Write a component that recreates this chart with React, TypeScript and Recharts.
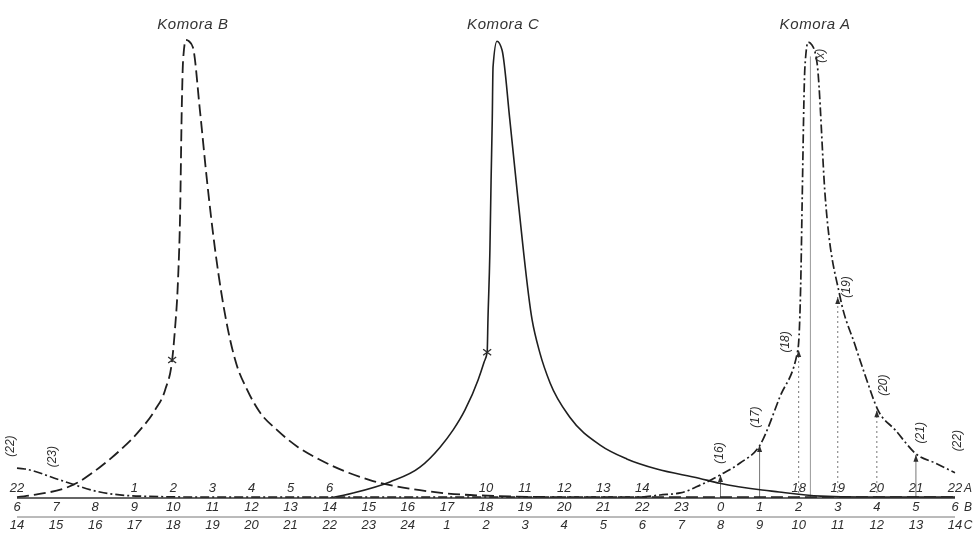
import { LineChart, Line, XAxis, YAxis, ReferenceLine, ReferenceDot } from 'recharts';

// hour positions 0..24 along the shared time base
const hourTicks = [0, 1, 2, 3, 4, 5, 6, 7, 8, 9, 10, 11, 12, 13, 14, 15, 16, 17, 18, 19, 20, 21, 22, 23, 24];
const rowA = ['22', '', '', '1', '2', '3', '4', '5', '6', '', '', '', '10', '11', '12', '13', '14', '', '', '', '18', '19', '20', '21', '22'];
const rowB = ['6', '7', '8', '9', '10', '11', '12', '13', '14', '15', '16', '17', '18', '19', '20', '21', '22', '23', '0', '1', '2', '3', '4', '5', '6'];
const rowC = ['14', '15', '16', '17', '18', '19', '20', '21', '22', '23', '24', '1', '2', '3', '4', '5', '6', '7', '8', '9', '10', '11', '12', '13', '14'];

// Komora B (dashed)
const komoraBX = [0, 0.41, 1.54, 2.12, 2.64, 3.15, 3.53, 3.79, 3.97, 4.04, 4.12, 4.17, 4.22, 4.25, 4.32, 4.4, 4.5, 4.68, 4.86, 5.07, 5.4, 5.6, 5.89, 6.2, 6.65, 7.2, 7.75, 9.03, 10.31, 11.59, 13.9, 24];
const komoraBV = [0.2, 0.65, 3.3, 6.7, 10.4, 14.8, 19.1, 23.5, 30, 36.5, 47.4, 60.4, 86.5, 95.2, 99.6, 99.3, 98, 84.3, 69.1, 53.9, 36.5, 29.5, 23.5, 18.8, 14.8, 11, 8.3, 3.9, 1.7, 0.65, 0.2, 0.2];

// Komora C (solid)
const komoraCX = [8.01, 8.6, 9.54, 10.31, 10.82, 11.16, 11.46, 11.8, 11.95, 12.03, 12.05, 12.1, 12.13, 12.16, 12.18, 12.28, 12.41, 12.61, 12.82, 13.18, 13.38, 13.64, 14.15, 14.92, 15.6, 16.37, 17.45, 17.98, 19.5, 20.56, 21.6, 24];
const komoraCV = [0, 1.1, 3.5, 6.7, 11, 14.8, 19.1, 25.7, 29.5, 31.7, 38.7, 53.9, 69.1, 82.2, 93.7, 99.3, 97.4, 82.2, 64.8, 38.7, 31.5, 25, 17.5, 11.5, 8.5, 6.3, 4.3, 3.2, 1.3, 0.4, 0.2, 0.2];

// Komora A (dash-dot), wraps round the 24 h base
const komoraAX = [0, 0.2, 1.1, 2.12, 3.15, 4.68, 15.94, 16.45, 16.97, 17.48, 17.99, 18.5, 19.01, 19.52, 19.98, 20.06, 20.09, 20.16, 20.24, 20.34, 20.47, 20.68, 21.06, 21.44, 21.7, 22.03, 22.47, 23.03, 23.49, 24];
const komoraAV = [6.5, 6.3, 3.9, 1.3, 0.4, 0.2, 0.2, 0.65, 1.1, 2.8, 5, 7.6, 11.5, 22, 32.2, 49.6, 64.8, 93.7, 99.1, 98.5, 94.6, 65.4, 43.7, 33.3, 26.7, 19.1, 14.8, 9.4, 7.6, 5.5];

// readings marked on curve A
const noteLabels = ['(16)', '(17)', '(18)', '(19)', '(20)', '(21)', '(22)'];
const noteX = [18, 19, 20, 21, 22, 23, 24];
const noteV = [5, 11.5, 32.2, 43.7, 19.1, 9.4, 5.5];
const tailLabels = ['(22)', '(23)'];
const tailX = [0, 1];
const tailV = [6.5, 4.2];

const titles = ['Komora B', 'Komora C', 'Komora A'];
const titleX = [4.5, 12.44, 20.42];

const toPts = (xs: number[], vs: number[]) => xs.map((x, k) => ({ x, v: vs[k] }));

const ink = '#2e2e2e';
const font = "'Liberation Sans Narrow', 'Liberation Sans', sans-serif";

// label placement, per note
const noteStyle: Record<string, { dx: number; dy: number; dash?: string; line: boolean }> = {
  '(16)': { dx: 2, dy: -22, line: true },
  '(17)': { dx: -1, dy: -28, line: true },
  '(18)': { dx: -10, dy: -8, dash: '2 3', line: true },
  '(19)': { dx: 12, dy: -10, dash: '2 3', line: true },
  '(20)': { dx: 10, dy: -25, dash: '2 3', line: true },
  '(21)': { dx: 8, dy: -22, line: true },
  '(22)': { dx: 6, dy: -32, line: false },
};

const TickAB = (props: any) => {
  const { x, y, payload } = props;
  const k = payload.value as number;
  const base = y - 8;
  return (
    <g fontFamily={font} fontStyle="italic" fontSize={13} fill={ink} textAnchor="middle">
      <text x={x} y={base - 6}>{rowA[k]}</text>
      <text x={x} y={base + 13}>{rowB[k]}</text>
      {k === 24 && (
        <>
          <text x={x + 13} y={base - 6} fontSize={12}>A</text>
          <text x={x + 13} y={base + 13} fontSize={12}>B</text>
        </>
      )}
    </g>
  );
};

const TickC = (props: any) => {
  const { x, y, payload } = props;
  const k = payload.value as number;
  const base = y - 8;
  return (
    <g fontFamily={font} fontStyle="italic" fontSize={13} fill={ink} textAnchor="middle">
      <text x={x} y={base + 12}>{rowC[k]}</text>
      {k === 24 && <text x={x + 13} y={base + 12} fontSize={12}>C</text>}
    </g>
  );
};

const rotText = (text: string, dx: number, dy: number) => (p: any) => (
  <text
    x={p.cx + dx}
    y={p.cy + dy}
    transform={`rotate(-90 ${p.cx + dx} ${p.cy + dy})`}
    fontFamily={font}
    fontStyle="italic"
    fontSize={12}
    fill={ink}
    textAnchor="middle"
  >
    {text}
  </text>
);

const arrowHead = (p: any) => (
  <polygon points={`${p.cx},${p.cy} ${p.cx - 2.5},${p.cy + 7} ${p.cx + 2.5},${p.cy + 7}`} fill={ink} />
);

const cross = (p: any) => (
  <path d={`M${p.cx - 4},${p.cy - 3} L${p.cx + 4},${p.cy + 3} M${p.cx - 4},${p.cy + 3} L${p.cx + 4},${p.cy - 3}`} stroke={ink} strokeWidth={1.3} />
);

export default function App() {
  return (
    <div style={{ position: 'fixed', left: 0, top: 0 }}>
      <LineChart width={974} height={539} margin={{ top: 38, right: 19, bottom: 0, left: 17 }}>
        <XAxis
          dataKey="x"
          type="number"
          domain={[0, 24]}
          ticks={hourTicks}
          interval={0}
          height={19}
          tickLine={false}
          axisLine={{ stroke: '#333', strokeWidth: 1.6 }}
          tick={<TickAB />}
        />
        <XAxis
          xAxisId="c"
          dataKey="x"
          type="number"
          domain={[0, 24]}
          ticks={hourTicks}
          interval={0}
          height={22}
          tickLine={false}
          axisLine={{ stroke: '#777', strokeWidth: 1 }}
          tick={<TickC />}
        />
        <YAxis type="number" domain={[0, 100]} hide allowDataOverflow />

        <ReferenceLine segment={[{ x: 20.3, y: 0 }, { x: 20.3, y: 96 }]} stroke="#999" strokeWidth={1} />
        {noteLabels.map((t, k) =>
          noteStyle[t].line ? (
            <ReferenceLine
              key={'s' + t}
              segment={[{ x: noteX[k], y: 0 }, { x: noteX[k], y: noteV[k] }]}
              stroke="#777"
              strokeWidth={1}
              strokeDasharray={noteStyle[t].dash}
            />
          ) : null
        )}

        <Line data={toPts(komoraBX, komoraBV)} dataKey="v" type="monotone" dot={false} stroke="#1f1f1f" strokeWidth={1.8} strokeDasharray="12 5" isAnimationActive={false} />
        <Line xAxisId="c" data={toPts(komoraCX, komoraCV)} dataKey="v" type="monotone" dot={false} stroke="#1f1f1f" strokeWidth={1.6} isAnimationActive={false} />
        <Line data={toPts(komoraAX, komoraAV)} dataKey="v" type="monotone" dot={false} stroke="#1f1f1f" strokeWidth={1.7} strokeDasharray="9 3 2 3" isAnimationActive={false} />

        {noteLabels.map((t, k) => (
          <ReferenceDot key={'a' + t} x={noteX[k]} y={noteV[k]} r={0} shape={noteStyle[t].line ? arrowHead : undefined} />
        ))}
        {noteLabels.map((t, k) => (
          <ReferenceDot key={'n' + t} x={noteX[k]} y={noteV[k]} r={0} shape={rotText(t, noteStyle[t].dx, noteStyle[t].dy)} />
        ))}
        {tailLabels.map((t, k) => (
          <ReferenceDot key={'t' + t} x={tailX[k]} y={tailV[k]} r={0} ifOverflow="visible" shape={rotText(t, k === 0 ? -3 : 0, -22)} />
        ))}
        <ReferenceDot x={20.45} y={97} r={0} shape={rotText('(x)', 8, 4)} />
        <ReferenceDot x={3.97} y={30} r={0} shape={cross} />
        <ReferenceDot x={12.03} y={31.7} r={0} shape={cross} />

        {titles.map((t, k) => (
          <ReferenceDot
            key={t}
            x={titleX[k]}
            y={100}
            r={0}
            ifOverflow="visible"
            shape={(p: any) => (
              <text x={p.cx} y={p.cy - 9} fontFamily="'Liberation Sans', sans-serif" fontStyle="italic" fontSize={15} letterSpacing={0.6} fill="#333" textAnchor="middle">
                {t}
              </text>
            )}
          />
        ))}
      </LineChart>
    </div>
  );
}
